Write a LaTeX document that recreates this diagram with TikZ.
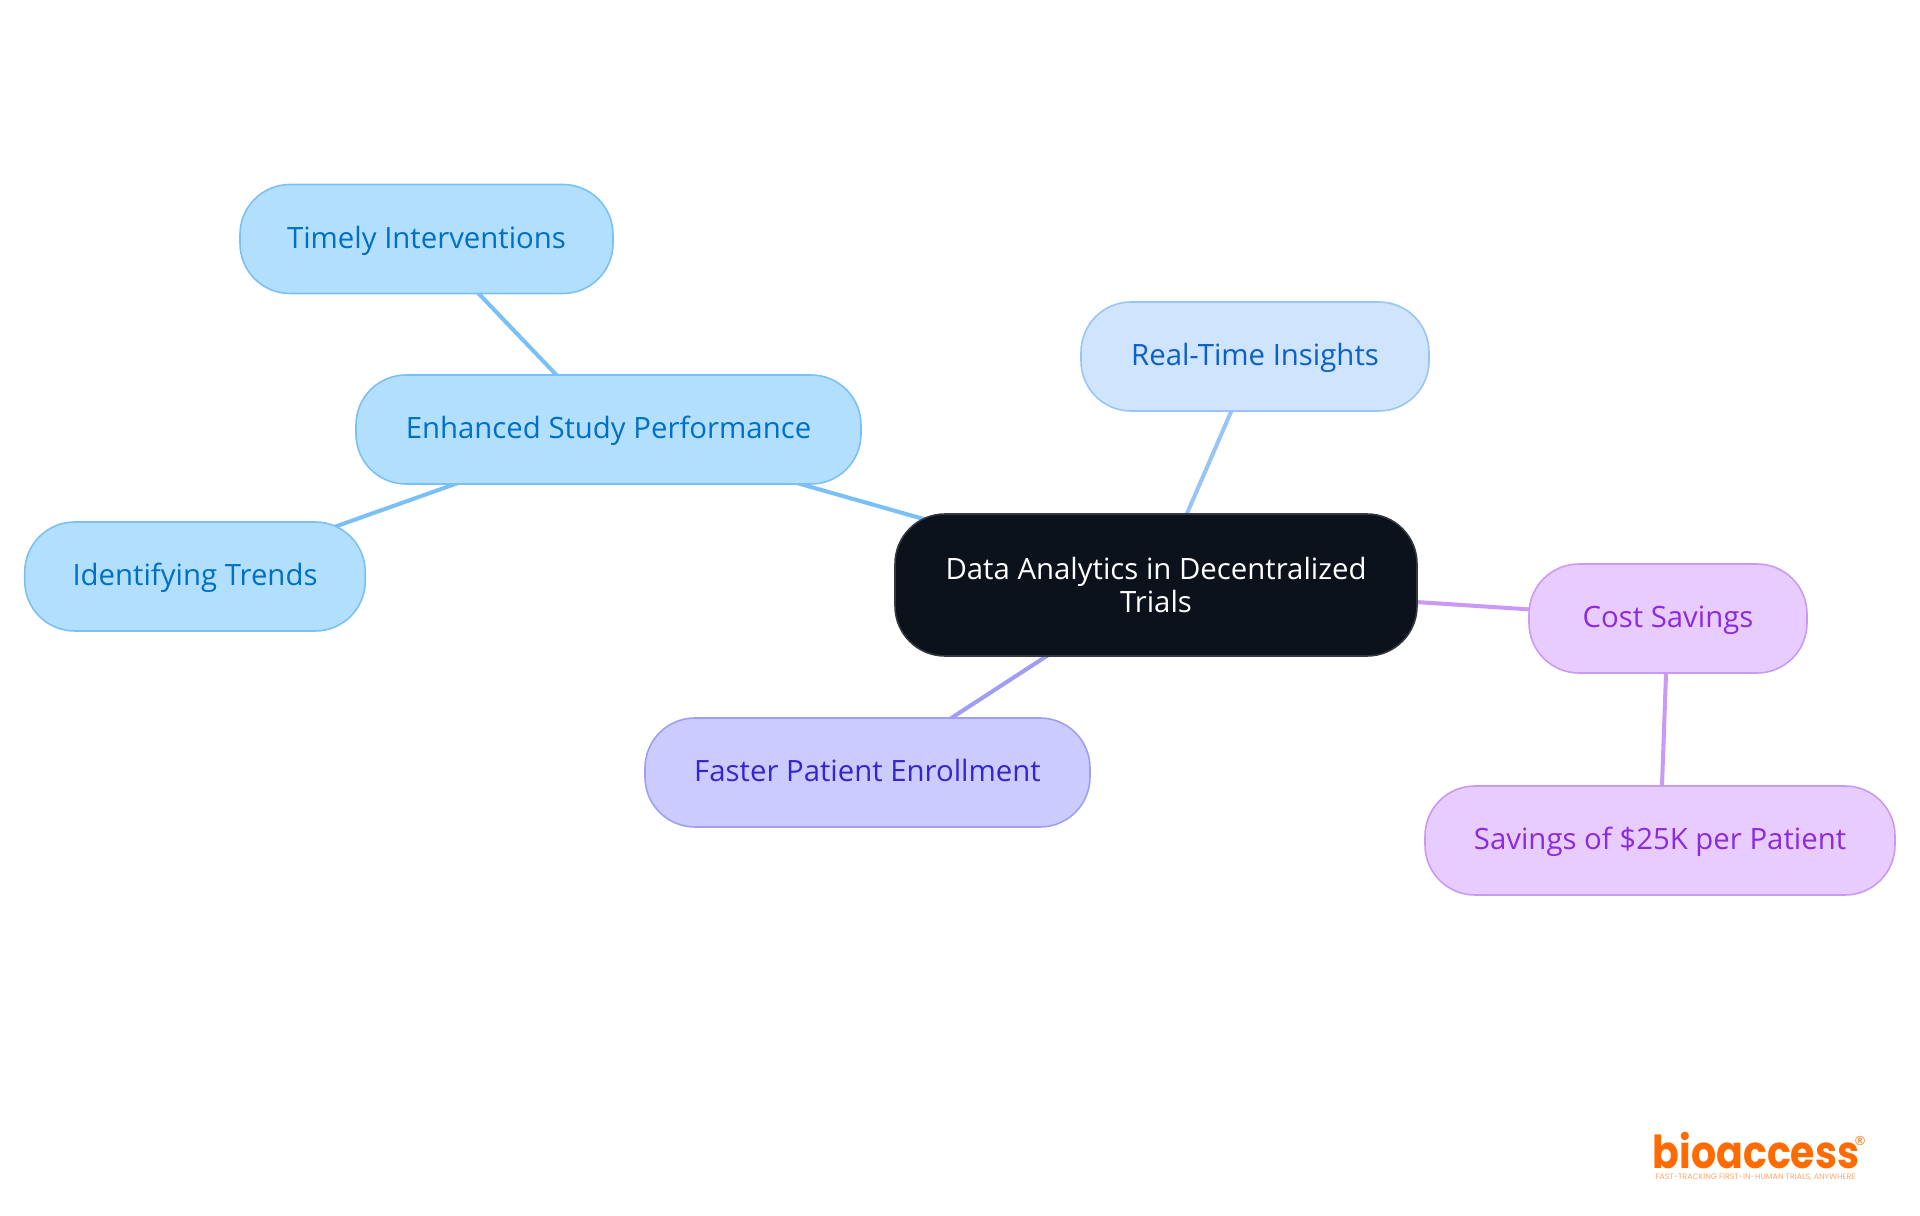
\documentclass[tikz,border=0pt]{standalone}
\usepackage{fontspec}
\setmainfont{Open Sans}
\newfontfamily\logofont{Poppins}
\usetikzlibrary{backgrounds}

\definecolor{skyfill}{HTML}{B3DFFF}
\definecolor{skyline}{HTML}{7BC0F5}
\definecolor{skytext}{HTML}{0070C4}
\definecolor{palefill}{HTML}{CFE4FD}
\definecolor{paleline}{HTML}{98C5F5}
\definecolor{paletext}{HTML}{0B60C9}
\definecolor{indigofill}{HTML}{CBCBFF}
\definecolor{indigoline}{HTML}{A09DF5}
\definecolor{indigotext}{HTML}{3426CF}
\definecolor{violetfill}{HTML}{E9CCFF}
\definecolor{violetline}{HTML}{C99AF5}
\definecolor{violettext}{HTML}{8A2BE0}
\definecolor{darkfill}{HTML}{0B121B}
\definecolor{darkline}{HTML}{33383F}
\definecolor{logoorange}{HTML}{FF6B00}

\begin{document}
\begin{tikzpicture}
[idea/.style = {draw, line width=0.45pt, rounded corners=0.5cm, inner sep=0pt, align=center,
  minimum height=1.09cm, font=\fontsize{8.35}{9.3}\selectfont},
leaf/.style = {idea, text height=0.22cm, text depth=0.035cm},
sky/.style = {leaf, fill=skyfill, draw=skyline, text=skytext},
pale/.style = {leaf, fill=palefill, draw=paleline, text=paletext},
indigo/.style = {leaf, fill=indigofill, draw=indigoline, text=indigotext},
violet/.style = {leaf, fill=violetfill, draw=violetline, text=violettext},
link/.style = {line width=1.15pt},]
\useasboundingbox (0,0) rectangle (19.2,12.15);
\node (trials) at (11.56,6.30)[idea,fill=darkfill,draw=darkline,text=white,minimum width=5.22cm,minimum height=1.42cm] {Data Analytics in Decentralized\\Trials};
\node (insights) at (12.55,8.585)[pale,minimum width=3.48cm] {Real-Time Insights};
\node (performance) at (6.085,7.855)[sky,minimum width=5.05cm] {Enhanced Study Performance};
\node (interventions) at (4.265,9.76)[sky,minimum width=3.73cm] {Timely Interventions};
\node (trends) at (1.95,6.385)[sky,minimum width=3.405cm] {Identifying Trends};
\node (enrollment) at (8.675,4.425)[indigo,minimum width=4.45cm] {Faster Patient Enrollment};
\node (savings) at (16.68,5.965)[violet,minimum width=2.78cm] {Cost Savings};
\node (perpatient) at (16.6,3.745)[violet,minimum width=4.7cm] {Savings of \$25K per Patient};
\node (logo) at (17.56,0.64)[text=logoorange,inner sep=0pt,font=\logofont\bfseries\fontsize{12.9}{13}\selectfont] {\scalebox{0.87}[1]{bioaccess}};
\node (mark) at (18.6,0.74)[text=logoorange,inner sep=0pt,font=\fontsize{3.6}{4}\selectfont] {®};
\node (tagline) at (17.555,0.38)[text=logoorange!60,inner sep=0pt,font=\logofont\fontsize{2.25}{2.5}\selectfont] {FAST-TRACKING FIRST-IN-HUMAN TRIALS, ANYWHERE};

\begin{scope}[on background layer]
\draw[link,skyline] (trials.center)--(performance.center);
\draw[link,skyline] (performance.center)--(interventions.center);
\draw[link,skyline] (performance.center)--(trends.center);
\draw[link,paleline] (trials.center)--(insights.center);
\draw[link,indigoline] (trials.center)--(enrollment.center);
\draw[link,violetline] (trials.center)--(savings.center);
\draw[link,violetline] (savings.center)--(perpatient.center);
\end{scope}
\end{tikzpicture}
\end{document}
